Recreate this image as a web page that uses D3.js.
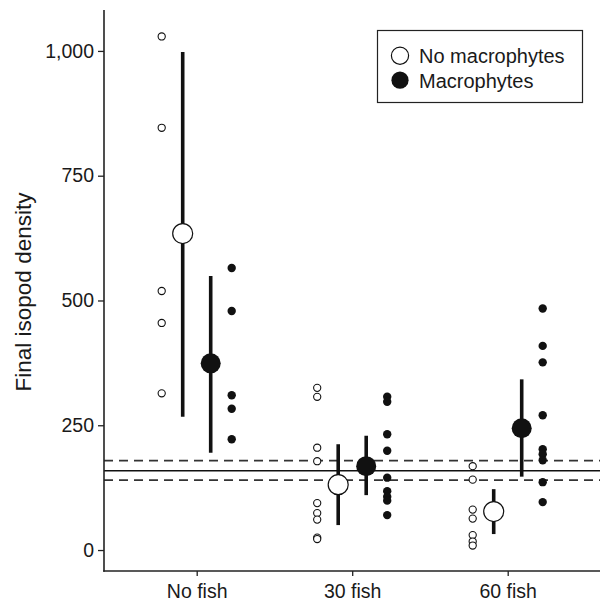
<!DOCTYPE html>
<html>
<head>
<meta charset="utf-8">
<script src="https://cdn.jsdelivr.net/npm/d3@7.9.0/dist/d3.min.js"></script>
<style>
  body { margin: 0; background: #fff; }
  svg text { font-family: "Liberation Sans", Arial, sans-serif; fill: #1a1a1a; }
</style>
</head>
<body>
<svg id="chart" width="600" height="602"></svg>
<script>
// treatments on the x axis
const treatments = ['No fish', '30 fish', '60 fish'];
const yTicks = [0, 250, 500, 750, 1000];

// raw replicate densities, per treatment
const noMacroRaw = [
  [1029, 846, 519, 455, 314],
  [325, 307, 205, 178, 94, 74, 61, 25, 22],
  [168, 141, 81, 63, 30, 17, 9],
];
const macroRaw = [
  [565, 479, 310, 283, 222],
  [307, 297, 232, 199, 145, 118, 107, 99, 70],
  [484, 409, 376, 270, 202, 192, 180, 136, 96],
];

// model means and intervals
const noMacroMean = [634, 131, 77];
const noMacroLow = [267, 50, 32];
const noMacroHigh = [998, 212, 122];
const macroMean = [374, 168, 244];
const macroLow = [195, 110, 147];
const macroHigh = [549, 229, 342];

// reference line (initial density) and its interval
const refMid = 159;
const refBand = [140, 179];

const svg = d3.select('#chart');
const axisLeftX = 104;
const axisBottomY = 571;

const x = d3.scalePoint().domain(treatments).range([196.7, 507.7]);
const y = d3.scaleLinear().domain([-42, 1082]).range([axisBottomY, 10]);

const RAW_OFF = 35;
const MEAN_OFF = 14;
const INK = '#111';

// reference lines
svg.append('line')
  .attr('x1', axisLeftX).attr('x2', 600)
  .attr('y1', y(refMid)).attr('y2', y(refMid))
  .attr('stroke', INK).attr('stroke-width', 1.6);

svg.selectAll('.ref-dash')
  .data(refBand)
  .join('line')
  .attr('class', 'ref-dash')
  .attr('x1', axisLeftX).attr('x2', 600)
  .attr('y1', (d) => y(d)).attr('y2', (d) => y(d))
  .attr('stroke', '#333').attr('stroke-width', 1.8)
  .attr('stroke-dasharray', '9,6');

// raw points
const rawPoints = [];
treatments.forEach((t, i) => {
  noMacroRaw[i].forEach((v) => rawPoints.push({ t, v, filled: false }));
  macroRaw[i].forEach((v) => rawPoints.push({ t, v, filled: true }));
});

svg.append('g')
  .selectAll('circle')
  .data(rawPoints)
  .join('circle')
  .attr('cx', (d) => x(d.t) + (d.filled ? RAW_OFF : -RAW_OFF))
  .attr('cy', (d) => y(d.v))
  .attr('r', (d) => (d.filled ? 4.2 : 3.6))
  .attr('fill', (d) => (d.filled ? INK : '#fff'))
  .attr('stroke', INK)
  .attr('stroke-width', (d) => (d.filled ? 0 : 1.1));

// means with intervals
const means = treatments.flatMap((t, i) => [
  { t, mean: noMacroMean[i], lo: noMacroLow[i], hi: noMacroHigh[i], filled: false },
  { t, mean: macroMean[i], lo: macroLow[i], hi: macroHigh[i], filled: true },
]);
const meanX = (d) => x(d.t) + (d.filled ? MEAN_OFF : -MEAN_OFF);

const meanGroup = svg.append('g');
meanGroup.selectAll('line')
  .data(means)
  .join('line')
  .attr('x1', meanX).attr('x2', meanX)
  .attr('y1', (d) => y(d.lo)).attr('y2', (d) => y(d.hi))
  .attr('stroke', INK).attr('stroke-width', 3.6);

meanGroup.selectAll('circle')
  .data(means)
  .join('circle')
  .attr('cx', meanX)
  .attr('cy', (d) => y(d.mean))
  .attr('r', 10)
  .attr('fill', (d) => (d.filled ? INK : '#fff'))
  .attr('stroke', INK)
  .attr('stroke-width', (d) => (d.filled ? 0 : 1.2));

// axes
const yAxis = svg.append('g')
  .attr('transform', `translate(${axisLeftX},0)`)
  .call(d3.axisLeft(y).tickValues(yTicks).tickSize(6).tickPadding(4).tickFormat(d3.format(',')));
yAxis.select('.domain').remove();
yAxis.selectAll('line').attr('stroke', '#222').attr('stroke-width', 1.3);
yAxis.selectAll('text').style('font-size', '19.5px').attr('fill', '#1a1a1a');

const xAxis = svg.append('g')
  .attr('transform', `translate(0,${axisBottomY})`)
  .call(d3.axisBottom(x).tickSize(5).tickPadding(8));
xAxis.select('.domain').remove();
xAxis.selectAll('line').attr('stroke', '#222').attr('stroke-width', 1.3);
xAxis.selectAll('text').style('font-size', '19.5px').attr('fill', '#1a1a1a');

svg.append('line')
  .attr('x1', axisLeftX).attr('x2', axisLeftX)
  .attr('y1', 10).attr('y2', axisBottomY + 0.8)
  .attr('stroke', '#222').attr('stroke-width', 1.6);
svg.append('line')
  .attr('x1', axisLeftX - 0.8).attr('x2', 600)
  .attr('y1', axisBottomY).attr('y2', axisBottomY)
  .attr('stroke', '#222').attr('stroke-width', 1.6);

svg.append('text')
  .attr('transform', 'translate(31,292) rotate(-90)')
  .attr('text-anchor', 'middle')
  .style('font-size', '22.5px')
  .text('Final isopod density');

// legend
const legend = svg.append('g');
legend.append('rect')
  .attr('x', 377.5).attr('y', 30.5)
  .attr('width', 205).attr('height', 72)
  .attr('fill', '#fff').attr('stroke', '#222').attr('stroke-width', 1.2);

const legendItems = [
  { label: 'No macrophytes', filled: false },
  { label: 'Macrophytes', filled: true },
];
const rows = legend.selectAll('g.item')
  .data(legendItems)
  .join('g')
  .attr('class', 'item')
  .attr('transform', (d, i) => `translate(400,${55.7 + i * 24.5})`);
rows.append('circle')
  .attr('r', 8.6)
  .attr('fill', (d) => (d.filled ? INK : '#fff'))
  .attr('stroke', INK)
  .attr('stroke-width', (d) => (d.filled ? 0 : 1.2));
rows.append('text')
  .attr('x', 19)
  .attr('y', 7.3)
  .style('font-size', '20px')
  .text((d) => d.label);
</script>
</body>
</html>
